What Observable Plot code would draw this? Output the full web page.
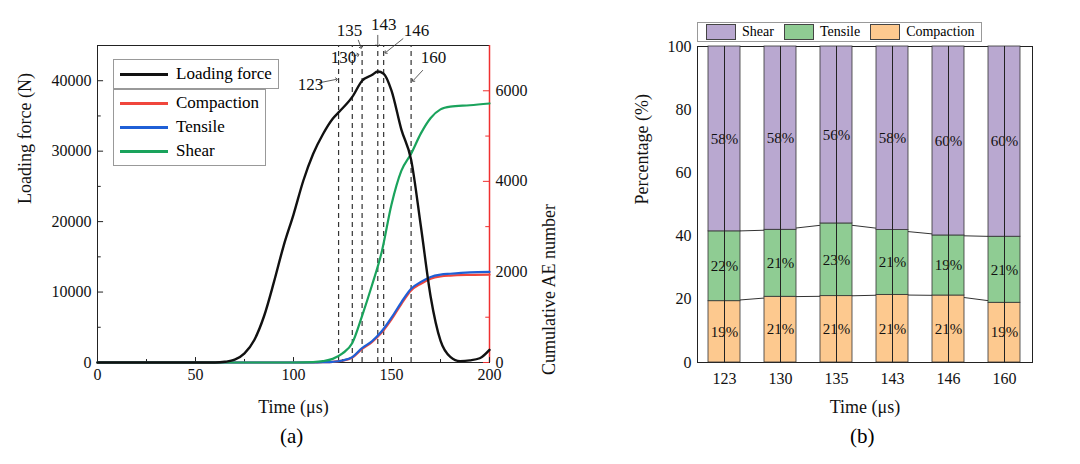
<!DOCTYPE html>
<html><head><meta charset="utf-8">
<script src="https://cdn.jsdelivr.net/npm/d3@7"></script>
<script src="https://cdn.jsdelivr.net/npm/@observablehq/plot@0.6"></script>
<style>
body{margin:0;background:#fff;font-family:"Liberation Serif",serif;}
#wrap{position:relative;width:1080px;height:464px;}
.p{position:absolute;top:0;}
.leg{position:absolute;border:1px solid #999;background:#fff;font-size:17px;}
.row{display:flex;align-items:center;height:24px;}
.sw{display:inline-block;width:48px;height:3px;margin:0 8px 0 6px;}
.box{display:inline-block;width:28px;height:14px;border:1px solid #444;margin:0 6px 0 6px;}
</style></head><body>
<div id="wrap"></div>
<script>
// ---- data (a)
const forceT = [0,50,60,65,70,75,80,85,90,95,100,105,110,115,120,123,130,135,140,143,146,150,155,160,165,170,175,180,185,190,195,200];
const forceV = [0,0,0,100,400,1300,3200,6600,11400,16600,21000,25800,29600,32400,34600,35500,37700,40000,40800,41300,41000,38600,33100,28800,19300,9300,3100,800,200,300,600,1800];
const aeT = [0,100,110,115,120,125,130,135,140,145,150,155,160,165,170,175,180,190,200];
const shearAE = [0,0,10,30,80,200,430,1030,1700,2440,3490,4230,4610,5060,5400,5590,5650,5680,5720];
const tensileAE = [0,0,0,5,15,45,120,320,470,690,990,1330,1630,1780,1890,1940,1960,1990,2000];
const compactionAE = [0,0,0,5,15,40,110,300,450,660,950,1290,1590,1740,1850,1900,1920,1935,1940];
const markTimes = [123,130,135,143,146,160];
// annotation label placement (time, force) for each marked time
const labelX = [108.7,125.5,128.6,146,162.8,171.4];
const labelY = [39500,43300,47100,48000,47100,43300];
// ---- data (b)
const times = ["123","130","135","143","146","160"];
const compPct = [19.4,20.8,21.0,21.4,21.2,18.9];
const tensPct = [22.1,21.2,23.0,20.5,19.0,20.9];
const compLbl = ["19%","21%","21%","21%","21%","19%"];
const tensLbl = ["22%","21%","23%","21%","19%","21%"];
const shearLbl = ["58%","58%","56%","58%","60%","60%"];

const FMAX=45000, AEMAX=7000, k=FMAX/AEMAX;
const font='"Liberation Serif",serif';
const wrap=document.getElementById("wrap");

const fData=forceT.map((t,i)=>({t,v:forceV[i]}));
const series=[["Compaction",compactionAE,"#f0463c"],["Tensile",tensileAE,"#1f5fd6"],["Shear",shearAE,"#1aa35c"]];
const aeData=[];
series.forEach(([s,arr])=>aeT.forEach((t,i)=>aeData.push({s,t,v:arr[i]*k})));
const labels=markTimes.map((t,i)=>({t,x:labelX[i],y:labelY[i]}));
const arrows=[{x1:113,y1:39700,x2:122,y2:40200},{x1:130.5,y1:43500,x2:133,y2:43700},{x1:133,y1:45800,x2:134.5,y2:44700},{x1:143,y1:46500,x2:143,y2:45000},{x1:156,y1:46000,x2:147,y2:44000},{x1:166,y1:41500,x2:161,y2:40000}];
const xt=d3.range(0,201,25), yt=d3.range(0,45001,5000), rt=[0,1000,2000,3000,4000,5000,6000].map(v=>v*k);

const A=Plot.plot({
  width:540,height:425,marginLeft:97,marginRight:51,marginTop:45,marginBottom:63,
  style:{fontFamily:font,fontSize:"16px",color:"#111",overflow:"visible"},
  x:{domain:[0,200]},
  y:{domain:[0,FMAX]},
  marks:[
    Plot.frame({stroke:"#222"}),
    Plot.ruleX([200],{stroke:"#f03030",strokeWidth:1.5}),
    Plot.axisX({ticks:[0,50,100,150,200],tickSize:0,tickPadding:6,label:null,fontSize:16}),
    Plot.ruleX(xt,{y1:0,y2:d=>d%50===0?700:420,stroke:"#222"}),
    Plot.text(["Time (μs)"],{frameAnchor:"bottom",dy:50,fontSize:18}),
    Plot.axisY({ticks:[0,10000,20000,30000,40000],tickSize:0,tickPadding:6,tickFormat:d=>String(d),label:null,fontSize:16}),
    Plot.ruleY(yt,{x1:0,x2:d=>d%10000===0?3.1:1.9,stroke:"#222"}),
    Plot.text(["Loading force (N)"],{frameAnchor:"left",dx:-72,rotate:-90,fontSize:18}),
    Plot.axisY({anchor:"right",ticks:[0,2000,4000,6000].map(v=>v*k),tickFormat:d=>String(Math.round(d/k)),tickSize:0,tickPadding:6,label:null,fontSize:16}),
    Plot.ruleY(rt,{x1:d=>Math.round(d/k)%2000===0?196.9:198.1,x2:200,stroke:"#f03030"}),
    Plot.text(["Cumulative AE number"],{frameAnchor:"right",dx:60,rotate:-90,fontSize:18}),
    Plot.ruleX(markTimes,{y1:0,y2:FMAX,stroke:"#333",strokeDasharray:"5,4",strokeWidth:1.2}),
    Plot.line(aeData,{x:"t",y:"v",z:"s",stroke:d=>d.s==="Compaction"?"#f0463c":d.s==="Tensile"?"#1f5fd6":"#1aa35c",strokeWidth:2.2,curve:"monotone-x"}),
    Plot.line(fData,{x:"t",y:"v",stroke:"#111",strokeWidth:2.4,curve:"monotone-x"}),
    Plot.link(arrows,{x1:"x1",y1:"y1",x2:"x2",y2:"y2",stroke:"#333",strokeWidth:0.8,markerEnd:"arrow"}),
    Plot.text(labels,{x:"x",y:"y",text:d=>String(d.t),fontSize:17}),
  ]
});
A.classList.add("p"); A.style.left="0px"; wrap.appendChild(A);

const bData=[];
times.forEach((t,i)=>{
  bData.push({t,s:"Compaction",y1:0,y2:compPct[i],lbl:compLbl[i]});
  bData.push({t,s:"Tensile",y1:compPct[i],y2:compPct[i]+tensPct[i],lbl:tensLbl[i]});
  bData.push({t,s:"Shear",y1:compPct[i]+tensPct[i],y2:100,lbl:shearLbl[i]});
});
const colors={Compaction:"#fdc98f",Tensile:"#8fcc93",Shear:"#b9a8d0"};
const B=Plot.plot({
  width:540,height:425,marginLeft:157,marginRight:48,marginTop:46,marginBottom:63,
  style:{fontFamily:font,fontSize:"16px",color:"#111",overflow:"visible"},
  x:{domain:times,paddingInner:0.42,paddingOuter:0.2},
  y:{domain:[0,100]},
  marks:[
    Plot.frame({stroke:"#222"}),
    Plot.line(times.map((t,i)=>({t,y:compPct[i]})),{x:"t",y:"y",stroke:"#333",strokeWidth:1}),
    Plot.line(times.map((t,i)=>({t,y:compPct[i]+tensPct[i]})),{x:"t",y:"y",stroke:"#333",strokeWidth:1}),
    Plot.barY(bData,{x:"t",y1:"y1",y2:"y2",fill:d=>colors[d.s],stroke:"#333",strokeWidth:0.8}),
    Plot.text(bData,{x:"t",y:d=>(d.y1+d.y2)/2,text:"lbl",fontSize:15}),
    Plot.axisX({tickSize:0,tickPadding:10,label:null,fontSize:16}),
    Plot.tickX(times,{x:d=>d,y1:0,y2:1.6,stroke:"#222"}),
    Plot.text(["Time (μs)"],{frameAnchor:"bottom",dy:50,fontSize:18}),
    Plot.axisY({ticks:d3.range(0,101,20),tickSize:0,tickPadding:6,label:null,fontSize:16}),
    Plot.text(["Percentage (%)"],{frameAnchor:"left",dx:-55,rotate:-90,fontSize:18}),
  ]
});
B.classList.add("p"); B.style.left="540px"; wrap.appendChild(B);

function add(html,style){const d=document.createElement("div");d.innerHTML=html;Object.assign(d.style,style);wrap.appendChild(d);return d;}
add("(a)",{position:"absolute",left:"280px",top:"424px",fontSize:"21px"});
add("(b)",{position:"absolute",left:"850px",top:"424px",fontSize:"21px"});
const l1=add(`<div class="row" style="height:28px;padding-right:6px"><span class="sw" style="background:#111"></span>Loading force</div>`,{});
l1.className="leg";Object.assign(l1.style,{left:"113px",top:"59px"});
const l2=add(series.map(([s,,c])=>`<div class="row"><span class="sw" style="background:${c}"></span>${s}</div>`).join(""),{});
l2.className="leg";Object.assign(l2.style,{left:"113px",top:"89px",padding:"1px 6px 2px 0"});
const l3=add(["Shear","Tensile","Compaction"].map(s=>`<span style="display:inline-flex;align-items:center;margin-right:4px"><span class="box" style="background:${colors[s]}"></span>${s}</span>`).join(""),{});
l3.className="leg";Object.assign(l3.style,{left:"697px",top:"22px",fontSize:"14px",padding:"1px 2px",display:"flex"});
</script></body></html>
